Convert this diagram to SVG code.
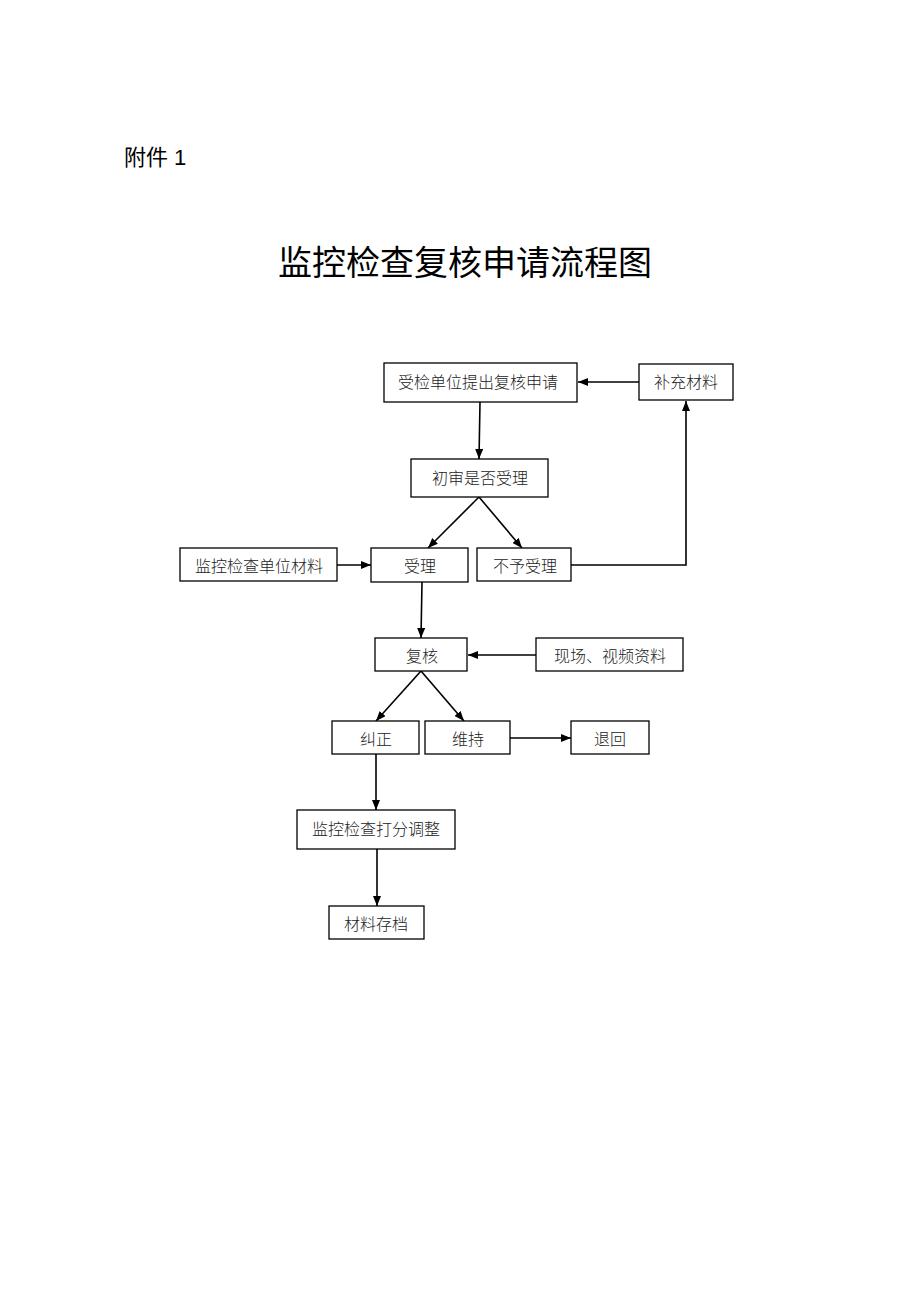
<svg xmlns="http://www.w3.org/2000/svg" width="920" height="1302" viewBox="0 0 920 1302">
<style>
.box{fill:#fff;stroke:#000;stroke-width:1.3}
.lbl{font-family:"Liberation Serif","Noto Sans CJK SC",serif;font-size:16px;font-weight:300;fill:#222;text-anchor:middle;dominant-baseline:central}
.ln{fill:none;stroke:#000;stroke-width:1.6}
</style>
<defs>
<marker id="ah" markerWidth="10" markerHeight="8" refX="10" refY="4" orient="auto" markerUnits="userSpaceOnUse">
<path d="M0,0 L10,4 L0,8 Z" fill="#000"/>
</marker>
</defs>
<rect width="920" height="1302" fill="#fff"/>
<text x="124" y="165" font-family="'Liberation Sans','Noto Sans CJK SC',sans-serif" font-size="22" fill="#000">附件 1</text>
<text x="465" y="275" font-family="'Noto Sans CJK SC',sans-serif" font-size="34" font-weight="400" text-anchor="middle" fill="#000">监控检查复核申请流程图</text>
<g id="connectors">
<line class="ln" x1="639" y1="382" x2="578" y2="382" marker-end="url(#ah)"/>
<line class="ln" x1="480" y1="402" x2="479" y2="459" marker-end="url(#ah)"/>
<line class="ln" x1="479" y1="497" x2="428" y2="548" marker-end="url(#ah)"/>
<line class="ln" x1="479" y1="497" x2="522" y2="548" marker-end="url(#ah)"/>
<polyline class="ln" points="571,565 686,565 686,401" marker-end="url(#ah)"/>
<line class="ln" x1="337" y1="565" x2="371" y2="565" marker-end="url(#ah)"/>
<line class="ln" x1="422" y1="582" x2="421" y2="638" marker-end="url(#ah)"/>
<line class="ln" x1="536" y1="655" x2="468" y2="655" marker-end="url(#ah)"/>
<line class="ln" x1="421" y1="671" x2="376" y2="721" marker-end="url(#ah)"/>
<line class="ln" x1="421" y1="671" x2="464" y2="721" marker-end="url(#ah)"/>
<line class="ln" x1="510" y1="738" x2="571" y2="738" marker-end="url(#ah)"/>
<line class="ln" x1="376" y1="754" x2="376" y2="810" marker-end="url(#ah)"/>
<line class="ln" x1="377" y1="849" x2="377" y2="906" marker-end="url(#ah)"/>
</g>
<g id="n1"><rect class="box" x="384" y="363" width="193" height="39"/><text class="lbl" x="478" y="382">受检单位提出复核申请</text></g>
<g id="n2"><rect class="box" x="639" y="364" width="94" height="36"/><text class="lbl" x="686" y="382">补充材料</text></g>
<g id="n3"><rect class="box" x="411" y="459" width="137" height="38"/><text class="lbl" x="480" y="478">初审是否受理</text></g>
<g id="n4"><rect class="box" x="180" y="548" width="157" height="33"/><text class="lbl" x="259" y="566">监控检查单位材料</text></g>
<g id="n5"><rect class="box" x="371" y="548" width="97" height="34"/><text class="lbl" x="420" y="566">受理</text></g>
<g id="n6"><rect class="box" x="477" y="548" width="94" height="33"/><text class="lbl" x="525" y="566">不予受理</text></g>
<g id="n7"><rect class="box" x="375" y="638" width="92" height="33"/><text class="lbl" x="422" y="656">复核</text></g>
<g id="n8"><rect class="box" x="536" y="638" width="147" height="33"/><text class="lbl" x="610" y="656">现场、视频资料</text></g>
<g id="n9"><rect class="box" x="332" y="721" width="87" height="33"/><text class="lbl" x="376" y="739">纠正</text></g>
<g id="n10"><rect class="box" x="425" y="721" width="85" height="33"/><text class="lbl" x="468" y="739">维持</text></g>
<g id="n11"><rect class="box" x="571" y="721" width="78" height="33"/><text class="lbl" x="610" y="739">退回</text></g>
<g id="n12"><rect class="box" x="297" y="810" width="158" height="39"/><text class="lbl" x="376" y="829">监控检查打分调整</text></g>
<g id="n13"><rect class="box" x="329" y="906" width="95" height="33"/><text class="lbl" x="376" y="924">材料存档</text></g>
</svg>
